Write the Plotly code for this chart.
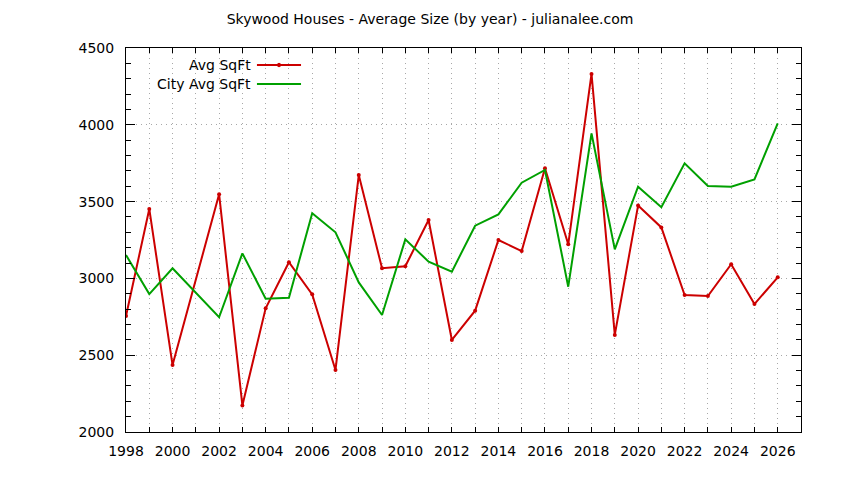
import plotly.graph_objects as go

years = [1998, 1999, 2000, 2002, 2003, 2004, 2005, 2006, 2007, 2008, 2009, 2010,
         2011, 2012, 2013, 2014, 2015, 2016, 2017, 2018, 2019, 2020, 2021, 2022,
         2023, 2024, 2025, 2026]
avg_sqft = [2755, 3452, 2436, 3548, 2173, 2805, 3105, 2896, 2404, 3673, 3066, 3079,
            3380, 2599, 2790, 3250, 3178, 3717, 3222, 4331, 2632, 3474, 3332, 2892,
            2885, 3092, 2833, 3007]
city_avg_sqft = [3152, 2898, 3066, 2747, 3163, 2868, 2874, 3424, 3300, 2974, 2762, 3254,
                 3109, 3044, 3343, 3417, 3623, 3706, 2946, 3944, 3189, 3597, 3463, 3749,
                 3602, 3597, 3645, 4010]
series_names = ["Avg SqFt", "City Avg SqFt"]
x_tick_vals = list(range(1998, 2027, 2))
y_tick_vals = [2000, 2500, 3000, 3500, 4000, 4500]

RED = "#cc0000"
GREEN = "#00a000"
FONT = "DejaVu Sans"
GRID = "#a8a8a8"

fig = go.Figure()
fig.add_trace(go.Scatter(x=years, y=avg_sqft, mode="lines+markers", name=series_names[0],
                         line=dict(color=RED, width=2),
                         marker=dict(color=RED, size=4, symbol="circle")))
fig.add_trace(go.Scatter(x=years, y=city_avg_sqft, mode="lines", name=series_names[1],
                         line=dict(color=GREEN, width=2)))

# Manual legend (text to the left of the sample, like the original)
rows = [(0.9557, series_names[0], RED, True), (0.9063, series_names[1], GREEN, False)]
for yp, name, col, mk in rows:
    fig.add_annotation(x=0.1822, y=yp, xref="paper", yref="paper", text=name,
                       showarrow=False, xanchor="right", yanchor="middle",
                       xshift=4, font=dict(family=FONT, size=14, color="black"))
    fig.add_shape(type="line", xref="paper", yref="paper", x0=0.194, x1=0.2593,
                  y0=yp, y1=yp, line=dict(color=col, width=2))
    if mk:
        fig.add_shape(type="circle", xref="paper", yref="paper",
                      x0=0.2267 - 0.0025, x1=0.2267 + 0.0025,
                      y0=yp - 0.0045, y1=yp + 0.0045,
                      fillcolor=col, line=dict(color=col, width=1))

fig.update_layout(
    width=844, height=480,
    margin=dict(l=118, r=51, t=40, b=56),
    paper_bgcolor="white", plot_bgcolor="white",
    showlegend=False,
    title=dict(text="Skywood Houses - Average Size (by year) - julianalee.com",
               x=0.5, xanchor="center", y=0.977, yanchor="middle",
               font=dict(family=FONT, size=14, color="black")),
    font=dict(family=FONT, size=14, color="black"),
)
fig.update_xaxes(range=[1998, 2027], tickvals=x_tick_vals,
                 ticktext=[str(v) for v in x_tick_vals],
                 ticks="inside", ticklen=5, tickcolor="black",
                 showline=True, linecolor="black", linewidth=1, mirror="allticks",
                 showgrid=True, gridcolor=GRID, griddash="1px,4px", gridwidth=1,
                 minor=dict(dtick=1, ticks="inside", ticklen=5, tickcolor="black",
                            showgrid=True, gridcolor=GRID, griddash="1px,4px"),
                 zeroline=False, ticklabelstandoff=6,
                 tickfont=dict(family=FONT, size=14, color="black"))
fig.update_yaxes(range=[2000, 4500], tickvals=y_tick_vals,
                 ticks="inside", ticklen=9, tickcolor="black",
                 showline=True, linecolor="black", linewidth=1, mirror="allticks",
                 showgrid=True, gridcolor=GRID, griddash="1px,4px", gridwidth=1,
                 minor=dict(dtick=100, ticks="inside", ticklen=5, tickcolor="black",
                            showgrid=False),
                 zeroline=False, ticklabelstandoff=8,
                 tickfont=dict(family=FONT, size=14, color="black"))

fig.write_html("out.html")
